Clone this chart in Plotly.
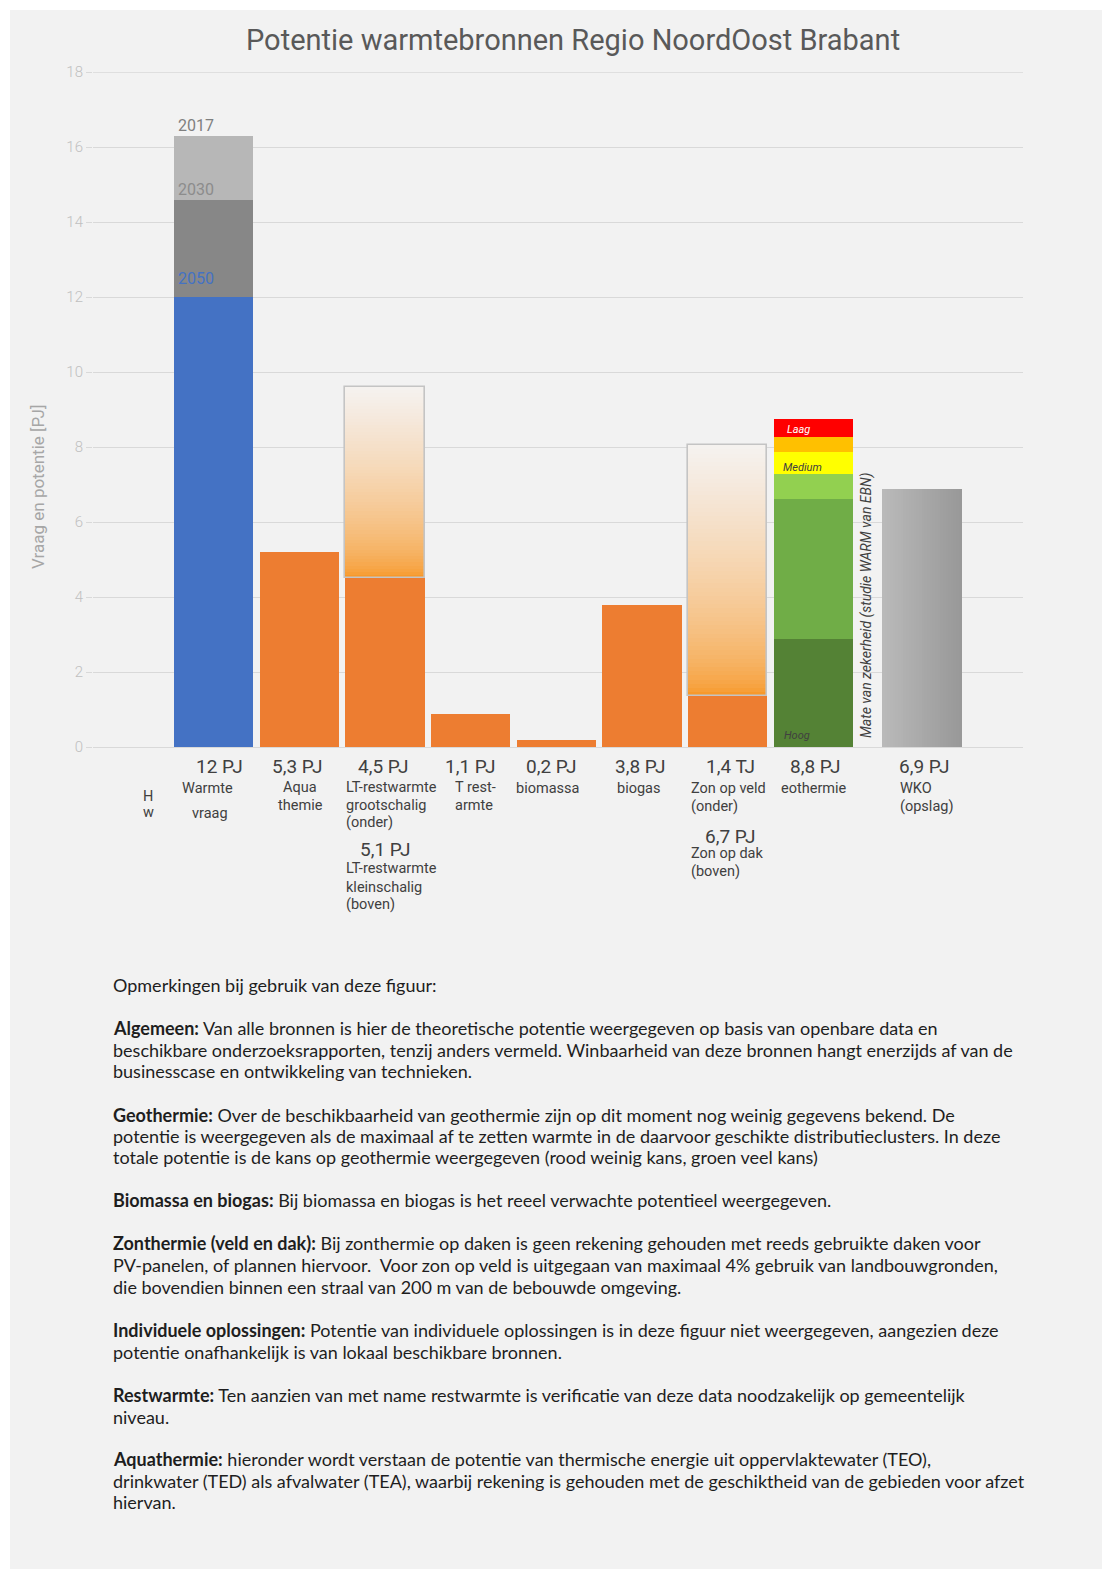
import plotly.graph_objects as go

# ---------------- data ----------------
categories = ["Warmtevraag", "Aquathermie", "LT-restwarmte", "T restwarmte", "Biomassa",
              "Biogas", "Zonthermie", "Geothermie", "WKO"]
slot_pos = [0, 1, 2, 3, 4, 5, 6, 7, 8.27]      # slot positions along the x axis

warmte_2050 = 12.0
warmte_2030 = 14.6
warmte_2017 = 16.3
aqua = 5.2
lt_groot = 4.5       # onder
lt_klein = 5.1       # boven
t_rest = 0.88
biomassa = 0.2
biogas = 3.8
zon_veld = 1.35      # onder
zon_dak = 6.7        # boven
geo_segments = [2.88, 3.74, 0.65, 0.6, 0.39, 0.49]   # Hoog ... Laag
geo_colors = ["#548235", "#70ad47", "#92d050", "#ffff00", "#ffc000", "#ff0000"]
wko = 6.88

y_ticks = [0, 2, 4, 6, 8, 10, 12, 14, 16, 18]

value_labels = ["12 PJ", "5,3 PJ", "4,5 PJ", "1,1 PJ", "0,2 PJ", "3,8 PJ", "1,4 TJ", "8,8 PJ", "6,9 PJ"]
extra_value_labels = ["5,1 PJ", "6,7 PJ"]

notes = [
    ("Opmerkingen bij gebruik van deze figuur:", 985),
    ("<b>Algemeen:</b> Van alle bronnen is hier de theoretische potentie weergegeven op basis van openbare data en", 1028),
    ("beschikbare onderzoeksrapporten, tenzij anders vermeld. Winbaarheid van deze bronnen hangt enerzijds af van de", 1050),
    ("businesscase en ontwikkeling van technieken.", 1071),
    ("<b>Geothermie:</b> Over de beschikbaarheid van geothermie zijn op dit moment nog weinig gegevens bekend. De", 1115),
    ("potentie is weergegeven als de maximaal af te zetten warmte in de daarvoor geschikte distributieclusters. In deze", 1136),
    ("totale potentie is de kans op geothermie weergegeven (rood weinig kans, groen veel kans)", 1157),
    ("<b>Biomassa en biogas:</b> Bij biomassa en biogas is het reeel verwachte potentieel weergegeven.", 1200),
    ("<b>Zonthermie (veld en dak):</b> Bij zonthermie op daken is geen rekening gehouden met reeds gebruikte daken voor", 1243),
    ("PV-panelen, of plannen hiervoor.&nbsp; Voor zon op veld is uitgegaan van maximaal 4% gebruik van landbouwgronden,", 1265),
    ("die bovendien binnen een straal van 200 m van de bebouwde omgeving.", 1287),
    ("<b>Individuele oplossingen:</b> Potentie van individuele oplossingen is in deze figuur niet weergegeven, aangezien deze", 1330),
    ("potentie onafhankelijk is van lokaal beschikbare bronnen.", 1352),
    ("<b>Restwarmte:</b> Ten aanzien van met name restwarmte is verificatie van deze data noodzakelijk op gemeentelijk", 1395),
    ("niveau.", 1417),
    ("<b>Aquathermie:</b> hieronder wordt verstaan de potentie van thermische energie uit oppervlaktewater (TEO),", 1459),
    ("drinkwater (TED) als afvalwater (TEA), waarbij rekening is gehouden met de geschiktheid van de gebieden voor afzet", 1481),
    ("hiervan.", 1502),
]

# ---------------- geometry / style ----------------
PAGE_W, PAGE_H = 1110, 1569
OFF = 8                      # default body margin of the html page
W, H = PAGE_W - OFF, PAGE_H - OFF
L, R, T, B = 93, 1023, 72, 747   # plot area in page pixels
X_RANGE = [-1.41, 9.45]
BW = 0.926
ORANGE = "#ed7d31"
TXT = "#404040"
GRID = "#d9d9d9"


def px_x(px):
    return (px - L) / (R - L)


def px_y(py):
    return (B - py) / (B - T)


def mix(c1, c2, f):
    return "rgb(%d,%d,%d)" % tuple(round(a + (b - a) * f) for a, b in zip(c1, c2))


fig = go.Figure()


def add_bar(x, base, height, color, width=BW, line=None):
    fig.add_trace(go.Bar(
        x=[x], y=[height], base=[base], width=[width],
        marker=dict(color=color, line=line or dict(width=0)),
        hoverinfo="skip", showlegend=False))


def gradient_bar(x, base, height, n=60):
    c_bot, c_top = (247, 146, 28), (245, 242, 240)
    step = height / n
    for i in range(n):
        t = (i + 0.5) / n
        add_bar(x, base + i * step, step * 1.08 if i < n - 1 else step,
                mix(c_bot, c_top, t ** 0.55))
    add_bar(x, base, height, "rgba(0,0,0,0)",
            line=dict(color="#c4c4c4", width=1.6))


# Warmtevraag
add_bar(slot_pos[0], 0, warmte_2050, "#4472c4")
add_bar(slot_pos[0], warmte_2050, warmte_2030 - warmte_2050, "#878787")
add_bar(slot_pos[0], warmte_2030, warmte_2017 - warmte_2030, "#b7b7b7")

# solid orange bars
for xi, v in zip(slot_pos[1:7], [aqua, lt_groot, t_rest, biomassa, biogas, zon_veld]):
    add_bar(xi, 0, v, ORANGE)

# gradient (boven) parts
gradient_bar(slot_pos[2], lt_groot, lt_klein)
gradient_bar(slot_pos[6], zon_veld, zon_dak)

# Geothermie stacked
acc = 0.0
for v, c in zip(geo_segments, geo_colors):
    add_bar(slot_pos[7], acc, v, c)
    acc += v

# WKO with horizontal grey gradient
n_w = 30
sub_w = BW / n_w
for j in range(n_w):
    xj = slot_pos[8] - BW / 2 + (j + 0.5) * sub_w
    add_bar(xj, 0, wko, mix((186, 186, 186), (152, 152, 152), (j + 0.5) / n_w),
            width=sub_w * 1.15 if j < n_w - 1 else sub_w)

ann = []


def text(px, py, s, size, color=TXT, anchor="center", family="Roboto", angle=0, italic=False):
    ann.append(dict(x=px_x(px), y=px_y(py), xref="paper", yref="paper", text=s,
                    showarrow=False, xanchor=anchor, yanchor="middle", textangle=angle,
                    font=dict(size=size, color=color, family=family,
                              style="italic" if italic else "normal")))


# title
text(573, 40, "Potentie warmtebronnen Regio NoordOost Brabant", 29, "#595959")
# y axis title
text(38, 487, "Vraag en potentie [PJ]", 17, "#a6a6a6", angle=-90)

# year labels in Warmtevraag bar
text(176, 126, "2017", 16, "#7f7f7f", anchor="left")
text(176, 189, "2030", 16, "#8c8c8c", anchor="left")
text(176, 278, "2050", 16, "#4472c4", anchor="left")

# geothermie labels
text(785, 429, "Laag", 11, "white", anchor="left", italic=True)
text(781, 467, "Medium", 11, "#404040", anchor="left", italic=True)
text(782, 735, "Hoog", 11, "#404040", anchor="left", italic=True)
text(866, 606, "Mate van zekerheid (studie WARM van EBN)", 14, "#404040", angle=-90, italic=True)

# value labels
vx = [219, 297, 383, 470, 551, 640, 730, 815, 924]
for px, s in zip(vx, value_labels):
    text(px, 766, s, 19)
text(385, 849, extra_value_labels[0], 19)
text(730, 836, extra_value_labels[1], 19)

# category labels
small = [
    (207, 788, "Warmte", "center"), (210, 813, "vraag", "center"),
    (148, 797, "H", "center"), (148, 812, "w", "center"),
    (300, 787, "Aqua", "center"), (300, 805, "themie", "center"),
    (344, 787, "LT-restwarmte", "left"), (344, 805, "grootschalig", "left"), (344, 822, "(onder)", "left"),
    (344, 869, "LT-restwarmte", "left"), (344, 887, "kleinschalig", "left"), (344, 904, "(boven)", "left"),
    (453, 787, "T rest-", "left"), (474, 805, "armte", "center"),
    (548, 788, "biomassa", "center"), (638, 788, "biogas", "center"),
    (689, 788, "Zon op veld", "left"), (689, 806, "(onder)", "left"),
    (689, 853, "Zon op dak", "left"), (689, 871, "(boven)", "left"),
    (779, 788, "eothermie", "left"),
    (898, 788, "WKO", "left"), (898, 806, "(opslag)", "left"),
]
for px, py, s, a in small:
    text(px, py, s, 14.5, anchor=a)

# notes
for s, py in notes:
    text(111, py, s, 18, "#1e1e1e", anchor="left", family="Lato")

shapes = [
    dict(type="rect", xref="paper", yref="paper", x0=px_x(10), x1=px_x(PAGE_W + 5),
         y0=px_y(PAGE_H + 5), y1=px_y(10), fillcolor="#f2f2f2", line=dict(width=0), layer="below"),
    # top gridline (at the edge of the plot area)
    dict(type="line", xref="paper", yref="y", x0=0, x1=1, y0=y_ticks[-1], y1=y_ticks[-1],
         line=dict(color=GRID, width=1.3), layer="below"),
]

fig.update_layout(
    width=W, height=H,
    margin=dict(l=L - OFF, r=PAGE_W - R, t=T - OFF, b=PAGE_H - B, pad=0),
    paper_bgcolor="white", plot_bgcolor="rgba(0,0,0,0)",
    barmode="overlay", showlegend=False, bargap=0,
    font=dict(family="Roboto"),
    annotations=ann, shapes=shapes,
    xaxis=dict(range=X_RANGE, showgrid=False, zeroline=False, showticklabels=False,
               ticks="", fixedrange=True),
    yaxis=dict(range=[0, 18], tickvals=y_ticks, showgrid=True, gridcolor=GRID,
               gridwidth=1.3, zeroline=True, zerolinecolor=GRID, zerolinewidth=1.3,
               ticks="outside", ticklen=6, tickcolor=GRID, showline=False,
               tickfont=dict(size=15, color="#c0c0c0", family="Roboto", weight=300)),
)

fig.write_html("out.html")
